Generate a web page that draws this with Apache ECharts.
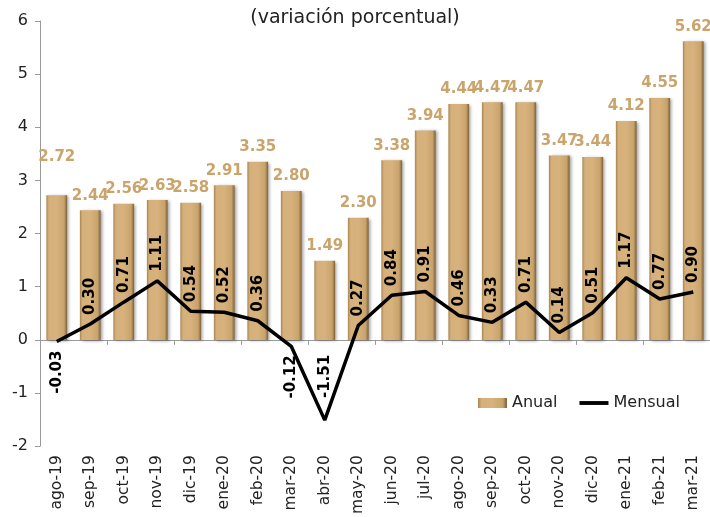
<!DOCTYPE html>
<html><head><meta charset="utf-8">
<script src="https://cdn.jsdelivr.net/npm/echarts@6/dist/echarts.min.js"></script>
<style>html,body{margin:0;padding:0;background:#fff}#c{width:710px;height:517px}</style>
</head><body><div id="c"></div>
<script>
const categories = ['ago-19','sep-19','oct-19','nov-19','dic-19','ene-20','feb-20','mar-20','abr-20','may-20','jun-20','jul-20','ago-20','sep-20','oct-20','nov-20','dic-20','ene-21','feb-21','mar-21'];
const anual = [2.72,2.44,2.56,2.63,2.58,2.91,3.35,2.80,1.49,2.30,3.38,3.94,4.44,4.47,4.47,3.47,3.44,4.12,4.55,5.62];
const mensual = [-0.03,0.30,0.71,1.11,0.54,0.52,0.36,-0.12,-1.51,0.27,0.84,0.91,0.46,0.33,0.71,0.14,0.51,1.17,0.77,0.90];
const yTicks = {min:-2, max:6, interval:1};

const FONT = 'DejaVu Sans';
const barGrad = new echarts.graphic.LinearGradient(0,0,1,0,[
  {offset:0,color:'#a8854f'},{offset:0.12,color:'#d6b07a'},{offset:0.5,color:'#d8b27c'},{offset:0.85,color:'#c9a36c'},{offset:1,color:'#7d5f37'}]);

const barData = anual.map((v,i) => i === 0 ? {value:v, label:{offset:[0,-24]}} : v);
const lineData = mensual.map(v => ({
  value: v,
  label: v >= 0 ? {position:'top', align:'left', verticalAlign:'middle', distance:9}
       : v < -1 ? {position:'top', align:'left', verticalAlign:'middle', distance:22}
                : {position:'bottom', align:'right', verticalAlign:'middle', distance:9}
}));

const chart = echarts.init(document.getElementById('c'), null, {renderer:'canvas'});
chart.setOption({
  animation:false,
  textStyle:{fontFamily:FONT},
  title:{text:'(variación porcentual)', left:'center', top:4,
    textStyle:{fontFamily:FONT, fontSize:19, fontWeight:'normal', color:'#222'}},
  grid:{left:40, top:21, width:672, height:427, containLabel:false},
  legend:{left:473, top:390, itemGap:22, itemWidth:29, itemHeight:10,
    textStyle:{fontFamily:FONT, fontSize:16, color:'#222'},
    data:[{name:'Anual', icon:'rect'},{name:'Mensual', icon:'path://M0,0H30V4H0Z'}]},
  xAxis:[
    {type:'category', data:categories, boundaryGap:true,
      axisLine:{onZero:true, lineStyle:{color:'#999', width:1}},
      axisTick:{show:true, inside:false, length:5, lineStyle:{color:'#999'}},
      axisLabel:{show:false}},
    {type:'category', data:categories, position:'bottom', boundaryGap:true,
      axisLine:{show:false, onZero:false}, axisTick:{show:false},
      axisLabel:{rotate:90, margin:9, fontFamily:FONT, fontSize:15.5, color:'#222', interval:0}}
  ],
  yAxis:{type:'value', min:yTicks.min, max:yTicks.max, interval:yTicks.interval,
    splitLine:{show:false},
    axisLine:{show:true, lineStyle:{color:'#999'}},
    axisTick:{show:true, length:5, lineStyle:{color:'#999'}},
    axisLabel:{fontFamily:FONT, fontSize:16, color:'#222', margin:12}},
  series:[
    {name:'Anual', type:'bar', data:barData, xAxisIndex:0, barCategoryGap:'38%',
      itemStyle:{color:barGrad, shadowColor:'rgba(0,0,0,0.35)', shadowBlur:3, shadowOffsetX:2, shadowOffsetY:1},
      label:{show:true, position:'top', distance:7, formatter:p=>p.value.toFixed(2),
        fontFamily:FONT, fontSize:15, fontWeight:'bold', color:'#cba46c'}},
    {name:'Mensual', type:'line', data:lineData, xAxisIndex:0, symbol:'circle', symbolSize:0.1, showSymbol:true, z:5,
      lineStyle:{color:'#000', width:3.5},
      itemStyle:{color:'#000'},
      label:{show:true, rotate:90, formatter:p=>p.value.toFixed(2),
        fontFamily:FONT, fontSize:15, fontWeight:'bold', color:'#000'}}
  ]
});
</script></body></html>
